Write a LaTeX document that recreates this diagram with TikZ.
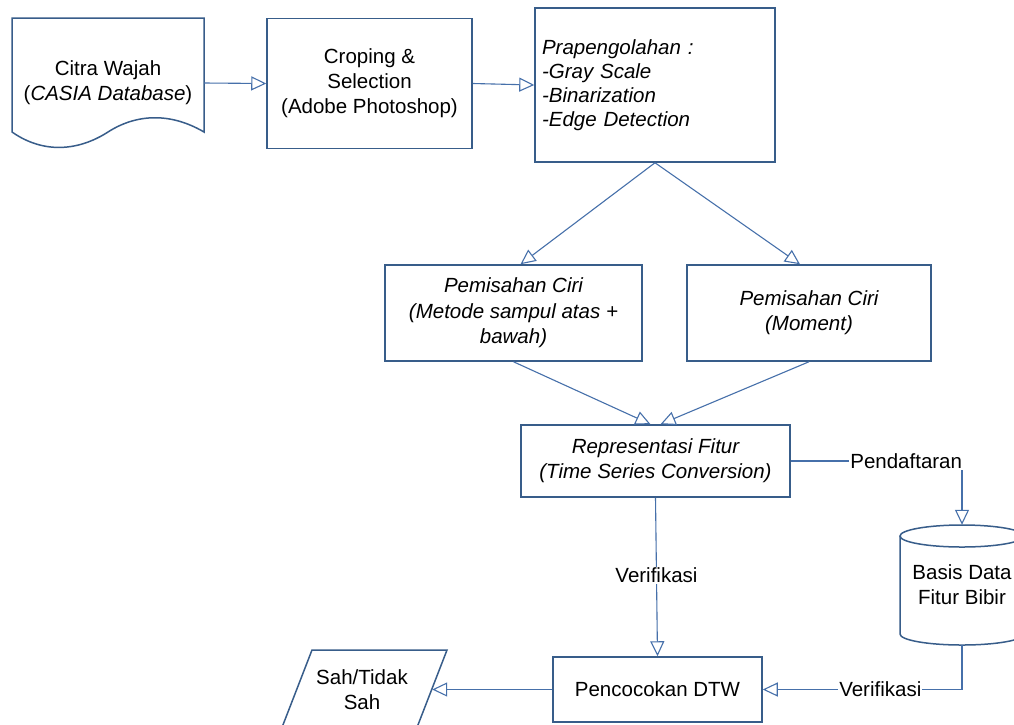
\documentclass[tikz,border=0pt]{standalone}
\usepackage{fontspec}
\setmainfont{Liberation Sans}
\usetikzlibrary{arrows.meta}
\definecolor{boxblue}{RGB}{56,93,138}
\definecolor{lineblue}{RGB}{70,112,170}
\begin{document}
\begin{tikzpicture}[x=1pt,y=-1pt,
  font=\fontsize{20.5}{25}\selectfont,
  box/.style={draw=boxblue, line width=1.5pt, align=center, inner sep=2pt},
  txt/.style={align=center, inner sep=0pt},
  outline/.style={draw=boxblue, line width=1.5pt},
  conn/.style={draw=lineblue, line width=1.1pt, -{Triangle[open,length=15pt,width=14pt]}},
  lbl/.style={fill=white, inner sep=1pt}]
\useasboundingbox (0,0) rectangle (1014,724);
\fill[white] (0,0) rectangle (1014,724);
\clip (0,0) rectangle (1014,724);

% document shape
\draw[outline] (12,132) -- (12,18) -- (204,18) -- (204,132)
  .. controls (170,112) and (136,114) .. (108,132)
  .. controls (80,150) and (45,155) .. (12,132) -- cycle;
\node[txt, minimum width=192pt, minimum height=114pt] (doc) at (108,83)
  {Citra Wajah\\(\textit{CASIA Database})};

\node[box, minimum width=205pt, minimum height=130pt] (crop) at (369.5,83.5)
  {Croping \&\\Selection\\(Adobe Photoshop)};

\node[box, minimum width=240pt, minimum height=154pt, text width=226pt,
  align=left, inner xsep=7pt, font=\fontsize{20.5}{24}\selectfont\itshape] (prep) at (655,85)
  {Prapengolahan :\\-Gray Scale\\-Binarization\\-Edge Detection};

\node[box, minimum width=257pt, minimum height=96pt, font=\fontsize{20.5}{25.5}\selectfont\itshape] (ciri1) at (513.5,313)
  {Pemisahan Ciri\\(Metode sampul atas +\\bawah)};
\node[box, minimum width=244pt, minimum height=96pt, font=\fontsize{20.5}{25}\selectfont\itshape] (ciri2) at (809,313)
  {Pemisahan Ciri\\(Moment)};

\node[box, minimum width=269pt, minimum height=72pt, font=\fontsize{20.5}{25}\selectfont\itshape] (rep) at (655.5,461)
  {Representasi Fitur\\(Time Series Conversion)};

\node[box, minimum width=209pt, minimum height=65pt] (match) at (657.5,689.5)
  {Pencocokan DTW};

% cylinder
\draw[outline] (962,536) ellipse [x radius=62pt, y radius=11pt];
\draw[outline] (900,536) -- (900,634)
  .. controls (900,640.1) and (927.8,645) .. (962,645)
  .. controls (996.2,645) and (1024,640.1) .. (1024,634) -- (1024,536);
\node[txt, minimum width=124pt, minimum height=120pt] (cyl) at (962,585)
  {Basis Data\\Fitur Bibir};

% parallelogram
\draw[outline] (312,650) -- (447,650) -- (416,730) -- (281,730) -- cycle;
\node[txt, minimum width=140pt] (out) at (362,689.5) {Sah/Tidak\\Sah};

% connectors
\draw[conn] (doc.east) -- (crop.west);
\draw[conn] (crop.east) -- (prep.west);
\draw[conn] (prep.south) -- ([xshift=7pt]ciri1.north);
\draw[conn] (prep.south) -- ([xshift=-9pt]ciri2.north);
\draw[conn] (ciri1.south) -- ([xshift=-5pt]rep.north);
\draw[conn] (ciri2.south) -- ([xshift=5pt]rep.north);
\draw[conn] (rep.east) -| node[lbl, pos=0.337] {Pendaftaran} (cyl.north);
\draw[conn] (rep.south) -- node[lbl, pos=0.49] {Verifikasi} (match.north);
\draw[conn] (cyl.south) |- node[lbl, pos=0.705] {Verifikasi} (match.east);
\draw[conn] (match.west) -- (out.east);
\end{tikzpicture}
\end{document}
